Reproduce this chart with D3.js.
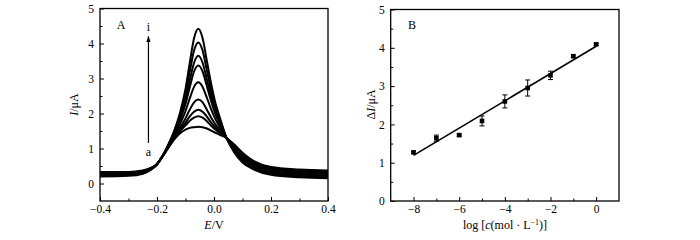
<!DOCTYPE html>
<html><head><meta charset="utf-8">
<script src="https://cdn.jsdelivr.net/npm/d3@7"></script>
<style>
body{margin:0;background:#fff;}
text{font-family:"Liberation Serif","Times New Roman",serif;fill:#000;}
</style></head>
<body><svg id="c" width="700" height="240"></svg>
<script>
// ---- Panel A data: DPV curves a..i ----
const potentials = [-0.40,-0.30,-0.25,-0.22,-0.20,-0.18,-0.16,-0.14,-0.12,-0.10,-0.085,-0.07,-0.055,-0.04,-0.025,-0.01,0.005,0.02,0.044,0.07,0.10,0.14,0.20,0.30,0.40];
const curveA = [0.33,0.33,0.37,0.45,0.55,0.78,1.02,1.25,1.43,1.54,1.59,1.61,1.62,1.61,1.57,1.51,1.45,1.39,1.30,1.12,0.88,0.64,0.47,0.40,0.37];
const curveB = [0.32,0.32,0.36,0.44,0.55,0.78,1.03,1.28,1.49,1.66,1.79,1.88,1.92,1.88,1.78,1.65,1.54,1.45,1.30,1.10,0.85,0.61,0.45,0.38,0.35];
const curveC = [0.31,0.31,0.35,0.44,0.55,0.78,1.04,1.29,1.53,1.74,1.92,2.05,2.11,2.05,1.91,1.74,1.60,1.48,1.30,1.08,0.83,0.60,0.43,0.36,0.33];
const curveD = [0.29,0.30,0.34,0.44,0.55,0.79,1.05,1.32,1.59,1.86,2.11,2.32,2.40,2.32,2.11,1.88,1.69,1.53,1.30,1.06,0.80,0.57,0.41,0.34,0.31];
const curveE = [0.27,0.28,0.33,0.43,0.55,0.79,1.07,1.36,1.69,2.07,2.43,2.76,2.89,2.76,2.45,2.12,1.84,1.62,1.30,1.02,0.75,0.53,0.37,0.30,0.27];
const curveF = [0.25,0.26,0.31,0.42,0.55,0.79,1.08,1.41,1.79,2.27,2.75,3.20,3.37,3.20,2.78,2.35,1.98,1.71,1.30,0.98,0.71,0.49,0.33,0.26,0.23];
const curveG = [0.24,0.25,0.30,0.41,0.55,0.79,1.09,1.43,1.84,2.38,2.94,3.45,3.65,3.45,2.97,2.48,2.07,1.76,1.30,0.96,0.68,0.47,0.31,0.24,0.21];
const curveH = [0.22,0.24,0.29,0.41,0.55,0.80,1.11,1.47,1.92,2.54,3.19,3.80,4.03,3.80,3.23,2.66,2.18,1.83,1.30,0.93,0.64,0.43,0.28,0.21,0.18];
const curveI = [0.20,0.22,0.28,0.40,0.55,0.80,1.12,1.50,2.00,2.70,3.45,4.15,4.42,4.15,3.50,2.85,2.30,1.90,1.30,0.90,0.60,0.40,0.25,0.18,0.15];
const curves = [curveA,curveB,curveC,curveD,curveE,curveF,curveG,curveH,curveI];
const xTicksA = [-0.4,-0.2,0,0.2,0.4];
const xMinorA = [-0.3,-0.1,0.1,0.3];
const yTicks = [0,1,2,3,4,5];
const yMinor = [0.5,1.5,2.5,3.5,4.5];
const arrowX = -0.23, arrowFrom = 1.16, arrowTo = 4.2;

// ---- Panel B data: calibration ----
const logC = [-8,-7,-6,-5,-4,-3,-2,-1,0];
const deltaI = [1.27,1.64,1.72,2.09,2.60,2.95,3.28,3.78,4.09];
const errI = [0.03,0.08,0.03,0.13,0.17,0.21,0.11,0.03,0.03];
const fitX = [-8,0];
const fitY = [1.19,4.04];
const xTicksB = [-8,-6,-4,-2,0];
const xMinorB = [-7,-5,-3,-1];

const svg = d3.select("#c");
svg.append("rect").attr("width",700).attr("height",240).attr("fill","#fff");

function frame(g,x0,x1,y0,y1){
  g.append("rect").attr("x",x0).attr("y",y1).attr("width",x1-x0).attr("height",y0-y1)
   .attr("fill","none").attr("stroke","#000").attr("stroke-width",1.3);
}
function axes(g,x,y,xt,xm,fmtX){
  const [r0] = y.range();
  const [l0] = x.range();
  g.append("g").attr("transform",`translate(0,${r0})`)
    .call(d3.axisBottom(x).tickValues(xt).tickSizeInner(-4).tickSizeOuter(0).tickPadding(4).tickFormat(fmtX));
  g.append("g").attr("transform",`translate(0,${r0})`)
    .call(d3.axisBottom(x).tickValues(xm).tickSizeInner(-2.5).tickSizeOuter(0).tickFormat(""));
  g.append("g").attr("transform",`translate(${l0},0)`)
    .call(d3.axisLeft(y).tickValues(yTicks).tickSizeInner(-4).tickSizeOuter(0).tickPadding(6).tickFormat(d3.format("d")));
  g.append("g").attr("transform",`translate(${l0},0)`)
    .call(d3.axisLeft(y).tickValues(yMinor).tickSizeInner(-2.5).tickSizeOuter(0).tickFormat(""));
  g.selectAll(".domain").remove();
  g.selectAll(".tick line").attr("stroke","#000").attr("stroke-width",1);
  g.selectAll(".tick text").style("font-family","'Liberation Serif','Times New Roman',serif").style("font-size","11.5px").attr("fill","#000");
}

// ---- Panel A ----
const gA = svg.append("g");
const xA = d3.scaleLinear().domain([-0.4,0.4]).range([100,328]);
const yA = d3.scaleLinear().domain([-0.5,5]).range([201,8.5]);
svg.append("clipPath").attr("id","clipA").append("rect").attr("x",100).attr("y",8.5).attr("width",228).attr("height",192.5);
const line = d3.line().x((d,i)=>xA(potentials[i])).y(d=>yA(d)).curve(d3.curveMonotoneX);
gA.append("g").attr("clip-path","url(#clipA)").selectAll("path").data(curves).join("path")
  .attr("d",line).attr("fill","none").attr("stroke","#000").attr("stroke-width",2);
axes(gA,xA,yA,xTicksA,xMinorA,d3.format(".1f"));
frame(gA,100,328,201,8.5);
// arrow
svg.append("defs").append("marker").attr("id","ah").attr("viewBox","0 0 10 10").attr("refX",9).attr("refY",5)
  .attr("markerWidth",5).attr("markerHeight",6).attr("orient","auto")
  .append("path").attr("d","M0,1.5 L10,5 L0,8.5 Z").attr("fill","#000");
gA.append("line").attr("x1",xA(arrowX)).attr("x2",xA(arrowX)).attr("y1",yA(arrowFrom)).attr("y2",yA(arrowTo))
  .attr("stroke","#000").attr("stroke-width",1.2).attr("marker-end","url(#ah)");
gA.append("text").attr("x",xA(arrowX)).attr("y",yA(arrowTo)-6).attr("text-anchor","middle").style("font-size","12px").text("i");
gA.append("text").attr("x",xA(arrowX)).attr("y",yA(arrowFrom)+13).attr("text-anchor","middle").style("font-size","12px").text("a");
gA.append("text").attr("x",121).attr("y",29).attr("text-anchor","middle").style("font-size","12px").text("A");
const ylA = gA.append("text").attr("transform","translate(78,104.5) rotate(-90)").attr("text-anchor","middle").style("font-size","12px");
ylA.append("tspan").style("font-style","italic").text("I");
ylA.append("tspan").text("/μA");
const xlA = gA.append("text").attr("x",214).attr("y",229).attr("text-anchor","middle").style("font-size","12px");
xlA.append("tspan").style("font-style","italic").text("E");
xlA.append("tspan").text("/V");

// ---- Panel B ----
const gB = svg.append("g");
const xB = d3.scaleLinear().domain([-9,1]).range([390.7,619]);
const yB = d3.scaleLinear().domain([0,5]).range([201,9.5]);
gB.append("line").attr("x1",xB(fitX[0])).attr("y1",yB(fitY[0])).attr("x2",xB(fitX[1])).attr("y2",yB(fitY[1]))
  .attr("stroke","#000").attr("stroke-width",1.6);
const pts = gB.selectAll("g.pt").data(logC).join("g").attr("class","pt");
pts.append("line").attr("x1",(d)=>xB(d)).attr("x2",(d)=>xB(d))
  .attr("y1",(d,i)=>yB(deltaI[i]-errI[i])).attr("y2",(d,i)=>yB(deltaI[i]+errI[i])).attr("stroke","#000").attr("stroke-width",1);
pts.append("line").attr("x1",(d)=>xB(d)-2.5).attr("x2",(d)=>xB(d)+2.5)
  .attr("y1",(d,i)=>yB(deltaI[i]-errI[i])).attr("y2",(d,i)=>yB(deltaI[i]-errI[i])).attr("stroke","#000").attr("stroke-width",1);
pts.append("line").attr("x1",(d)=>xB(d)-2.5).attr("x2",(d)=>xB(d)+2.5)
  .attr("y1",(d,i)=>yB(deltaI[i]+errI[i])).attr("y2",(d,i)=>yB(deltaI[i]+errI[i])).attr("stroke","#000").attr("stroke-width",1);
pts.append("rect").attr("x",(d)=>xB(d)-2.3).attr("y",(d,i)=>yB(deltaI[i])-2.3).attr("width",4.6).attr("height",4.6).attr("fill","#000");
axes(gB,xB,yB,xTicksB,xMinorB,d3.format("d"));
frame(gB,390.7,619,201,9.5);
gB.append("text").attr("x",412).attr("y",29).attr("text-anchor","middle").style("font-size","12px").text("B");
const ylB = gB.append("text").attr("transform","translate(375,104.5) rotate(-90)").attr("text-anchor","middle").style("font-size","12px");
ylB.append("tspan").text("Δ");
ylB.append("tspan").style("font-style","italic").text("I");
ylB.append("tspan").text("/μA");
const xlB = gB.append("text").attr("x",505).attr("y",229).attr("text-anchor","middle").style("font-size","12px");
xlB.append("tspan").text("log [");
xlB.append("tspan").style("font-style","italic").text("c");
xlB.append("tspan").text("(mol · L");
xlB.append("tspan").attr("dy",-4).style("font-size","8px").text("−1");
xlB.append("tspan").attr("dy",4).text(")]");
</script></body></html>
